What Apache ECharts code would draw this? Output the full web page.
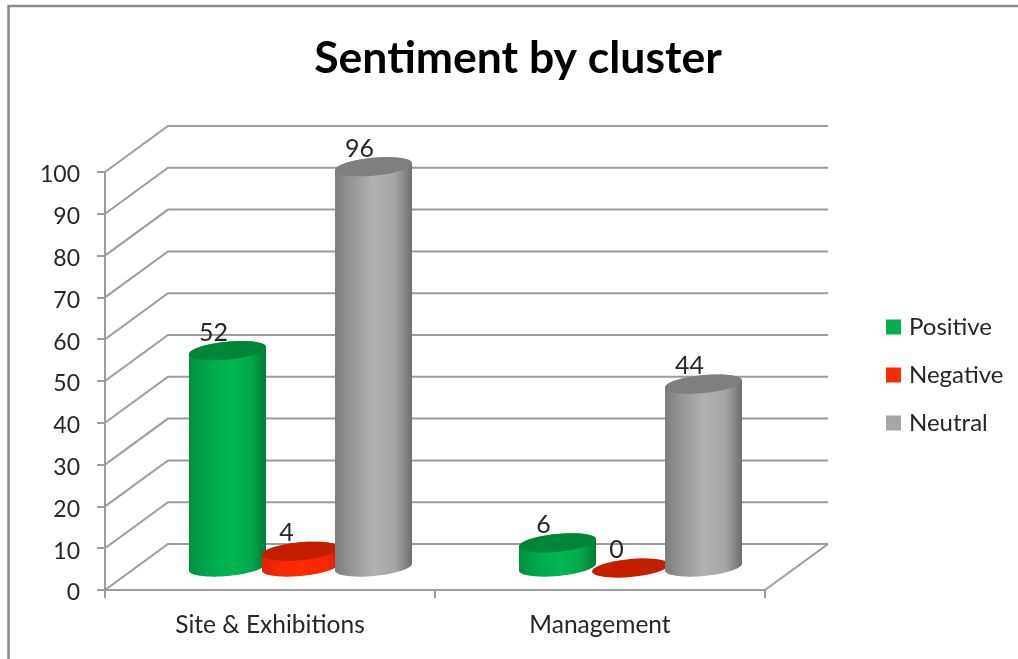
<!DOCTYPE html>
<html>
<head>
<meta charset="utf-8">
<title>Sentiment by cluster</title>
<style>
html, body { margin: 0; padding: 0; background: #fff; }
#chart { width: 1018px; height: 659px; }
</style>
<script src="https://cdn.jsdelivr.net/npm/echarts@6/dist/echarts.min.js"></script>
</head>
<body>
<div id="chart"></div>
<script>
var categories = ['Site & Exhibitions', 'Management'];
var positive = [52, 6];
var negative = [4, 0];
var neutral = [96, 44];
var valueTicks = [0, 10, 20, 30, 40, 50, 60, 70, 80, 90, 100];

// depth of the fake 3d box, in pixels
var DEPTH_X = 63;
var DEPTH_Y = -46;
var BAR_STEP = 73;
var BAR_RADIUS = 38.5;
var ELLIPSE_B = 9;
var ELLIPSE_TILT = -0.09;
var FONT = 'Lato, "Open Sans", sans-serif';
var TEXT_COLOR = '#262626';
var LINE_COLOR = '#9c9c9c';

function ellipsePoints(cx, cy, from, to) {
    var pts = [];
    var steps = 40;
    for (var i = 0; i <= steps; i++) {
        var t = from + (to - from) * i / steps;
        pts.push([
            cx + BAR_RADIUS * Math.cos(t),
            cy + ELLIPSE_B * Math.sin(t) + ELLIPSE_TILT * BAR_RADIUS * Math.cos(t)
        ]);
    }
    return pts;
}

function sideGradient(stops) {
    return new echarts.graphic.LinearGradient(0, 0, 1, 0, stops.map(function (c) {
        return { offset: c[0], color: c[1] };
    }));
}

function cylinderItem(slot, sideStops, topColor) {
    return function (params, api) {
        var base = api.coord([api.value(0), 0]);
        var top = api.coord([api.value(0), api.value(1)]);
        var cx = base[0] + DEPTH_X / 2 - 1 + slot * BAR_STEP;
        var baseY = base[1] + DEPTH_Y / 2;
        var topY = top[1] + DEPTH_Y / 2 + 1;
        var children = [];
        if (api.value(1) > 0) {
            var body = ellipsePoints(cx, baseY, 0, Math.PI).concat(ellipsePoints(cx, topY, Math.PI, 2 * Math.PI));
            children.push({
                type: 'polygon',
                shape: { points: body },
                style: { fill: sideGradient(sideStops) }
            });
        }
        children.push({
            type: 'polygon',
            shape: { points: ellipsePoints(cx, topY, 0, 2 * Math.PI) },
            style: { fill: topColor }
        });
        children.push({
            type: 'text',
            style: {
                text: String(api.value(1)),
                x: cx - 14,
                y: topY - 18,
                align: 'center',
                verticalAlign: 'middle',
                fontFamily: FONT,
                fontSize: 25,
                fill: TEXT_COLOR
            }
        });
        return { type: 'group', children: children };
    };
}

// back wall lines and the side of the floor
function wallItem(params, api) {
    var v = api.value(0);
    var y = api.coord([0, v])[1];
    var sys = params.coordSys;
    var right = sys.x + sys.width;
    var children = [{
        type: 'polyline',
        shape: { points: [
            [sys.x, y],
            [sys.x + DEPTH_X, y + DEPTH_Y],
            [right + DEPTH_X, y + DEPTH_Y]
        ] },
        style: { stroke: LINE_COLOR, lineWidth: 2, fill: 'none' }
    }];
    if (v === 0) {
        children.push({
            type: 'line',
            shape: { x1: right, y1: y, x2: right + DEPTH_X, y2: y + DEPTH_Y },
            style: { stroke: LINE_COLOR, lineWidth: 2 }
        });
    }
    return { type: 'group', children: children };
}

function pairs(values) {
    return values.map(function (v, i) { return [i, v]; });
}

var chart = echarts.init(document.getElementById('chart'), null, { renderer: 'canvas' });
chart.setOption({
    animation: false,
    backgroundColor: '#fff',
    title: {
        text: 'Sentiment by cluster',
        left: 513,
        top: 31,
        textAlign: 'center',
        textStyle: { fontFamily: FONT, fontSize: 44.5, fontWeight: 'bold', color: '#000' }
    },
    legend: {
        orient: 'vertical',
        left: 881,
        top: 310,
        itemWidth: 15,
        itemHeight: 15,
        itemGap: 24,
        icon: 'rect',
        data: ['Positive', 'Negative', 'Neutral'],
        textStyle: { fontFamily: FONT, fontSize: 24, color: TEXT_COLOR, padding: [0, 0, 0, 3] }
    },
    grid: { left: 105, top: 172, width: 660, height: 418 },
    xAxis: {
        type: 'category',
        data: categories,
        axisLine: { lineStyle: { color: LINE_COLOR, width: 2 } },
        axisTick: { show: true, length: 8, lineStyle: { color: LINE_COLOR, width: 2 } },
        axisLabel: { margin: 23, fontFamily: FONT, fontSize: 24.5, color: TEXT_COLOR }
    },
    yAxis: {
        type: 'value',
        min: 0,
        max: 100,
        interval: 10,
        splitLine: { show: false },
        axisLine: { show: true, lineStyle: { color: LINE_COLOR, width: 2 } },
        axisTick: { show: true, length: 8, lineStyle: { color: LINE_COLOR, width: 2 } },
        axisLabel: {
            margin: 25,
            formatter: '{v|{value}}',
            rich: { v: { fontFamily: FONT, fontSize: 23, color: TEXT_COLOR, padding: [6, 0, 0, 0] } }
        }
    },
    graphic: [{
        type: 'polyline',
        silent: true,
        shape: { points: [[8.5, 659], [8.5, 6], [1018, 6]] },
        style: { stroke: '#8a8a8a', lineWidth: 2.5, fill: 'none' }
    }],
    series: [{
        type: 'custom',
        name: 'wall',
        renderItem: wallItem,
        data: valueTicks.map(function (v) { return [v]; }),
        encode: { y: 0 },
        silent: true,
        z: 1
    }, {
        type: 'custom',
        name: 'Positive',
        itemStyle: { color: '#00b050' },
        renderItem: cylinderItem(-1, [[0, '#008f40'], [0.25, '#00a84b'], [0.55, '#00b854'], [0.8, '#00a84b'], [1, '#007c37']], '#00863b'),
        data: pairs(positive),
        z: 2
    }, {
        type: 'custom',
        name: 'Negative',
        itemStyle: { color: '#ff2a00' },
        renderItem: cylinderItem(0, [[0, '#dc2400'], [0.2, '#f52800'], [0.55, '#ff2a00'], [0.85, '#f52800'], [1, '#d02200']], '#c41e00'),
        data: pairs(negative),
        z: 3
    }, {
        type: 'custom',
        name: 'Neutral',
        itemStyle: { color: '#a6a6a6' },
        renderItem: cylinderItem(1, [[0, '#7c7c7c'], [0.25, '#9a9a9a'], [0.5, '#b0b0b0'], [0.78, '#a6a6a6'], [1, '#6e6e6e']], '#7f7f7f'),
        data: pairs(neutral),
        z: 4
    }]
});
</script>
</body>
</html>
